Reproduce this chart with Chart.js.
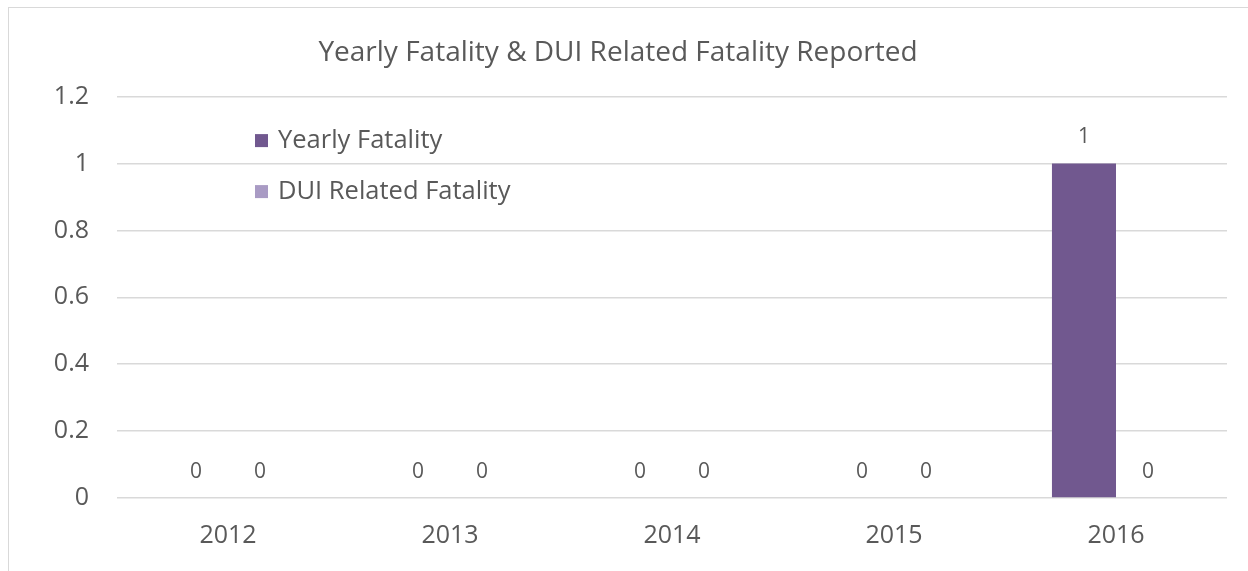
<!DOCTYPE html>
<html>
<head>
<meta charset="utf-8">
<script src="https://cdn.jsdelivr.net/npm/chart.js@4.4.1/dist/chart.umd.min.js"></script>
<style>
  html, body { margin: 0; padding: 0; background: #fff; overflow: hidden; }
  #frame {
    position: absolute; left: 8px; top: 7px;
    width: 1252px; height: 600px;
    border-left: 1.5px solid #d9d9d9; border-top: 1.5px solid #d9d9d9;
    box-sizing: border-box;
  }
  canvas { display: block; }
</style>
</head>
<body>
<div id="frame"><canvas id="chart" width="1252" height="600"></canvas></div>
<script>
  const years = ["2012", "2013", "2014", "2015", "2016"];
  const yearlyFatality = [0, 0, 0, 0, 1];
  const duiFatality = [0, 0, 0, 0, 0];
  const yTicks = [0, 0.2, 0.4, 0.6, 0.8, 1, 1.2];

  const textColor = "#595959";
  const fontFamily = "'Open Sans', sans-serif";

  // value labels above each bar + legend inside the plot
  const labelsPlugin = {
    id: "labels",
    afterDatasetsDraw(chart) {
      const ctx = chart.ctx;
      ctx.save();
      ctx.fillStyle = textColor;
      ctx.font = "21px " + fontFamily;
      ctx.textAlign = "center";
      ctx.textBaseline = "middle";
      chart.data.datasets.forEach((ds, i) => {
        chart.getDatasetMeta(i).data.forEach((bar, j) => {
          ctx.fillText(String(ds.data[j]), bar.x, bar.y - 26);
        });
      });

      const area = chart.chartArea;
      ctx.font = "25.5px " + fontFamily;
      ctx.textAlign = "left";
      chart.data.datasets.forEach((ds, i) => {
        const y = area.top + 44 + i * 51;
        ctx.fillStyle = ds.backgroundColor;
        ctx.fillRect(area.left + 138, y - 6.5, 13, 13);
        ctx.fillStyle = textColor;
        ctx.fillText(ds.label, area.left + 161, y);
      });
      ctx.restore();
    },
  };

  new Chart(document.getElementById("chart"), {
    type: "bar",
    data: {
      labels: years,
      datasets: [
        { label: "Yearly Fatality", data: yearlyFatality, backgroundColor: "#71588f" },
        { label: "DUI Related Fatality", data: duiFatality, backgroundColor: "#a99bc4" },
      ],
    },
    options: {
      responsive: false,
      animation: false,
      categoryPercentage: 0.577,
      barPercentage: 1.0,
      layout: { padding: { left: 0, right: 34, top: 0, bottom: 42 } },
      plugins: {
        legend: { display: false },
        tooltip: { enabled: false },
        title: {
          display: true,
          text: "Yearly Fatality & DUI Related Fatality Reported",
          color: textColor,
          font: { family: fontFamily, size: 28, weight: "normal" },
          padding: { top: 28, bottom: 27 },
        },
      },
      scales: {
        x: {
          grid: { display: false },
          border: { display: false },
          ticks: { color: textColor, font: { family: fontFamily, size: 25 }, padding: 15 },
        },
        y: {
          min: 0,
          max: 1.2,
          afterBuildTicks: (scale) => { scale.ticks = yTicks.map((v) => ({ value: v })); },
          afterFit: (scale) => { scale.width = 108; },
          grid: { color: "#d9d9d9", lineWidth: 1.5, drawTicks: false },
          border: { display: false },
          ticks: {
            color: textColor,
            font: { family: fontFamily, size: 25 },
            padding: 28,
            callback: (v) => String(v),
          },
        },
      },
    },
    plugins: [labelsPlugin],
  });
</script>
</body>
</html>
